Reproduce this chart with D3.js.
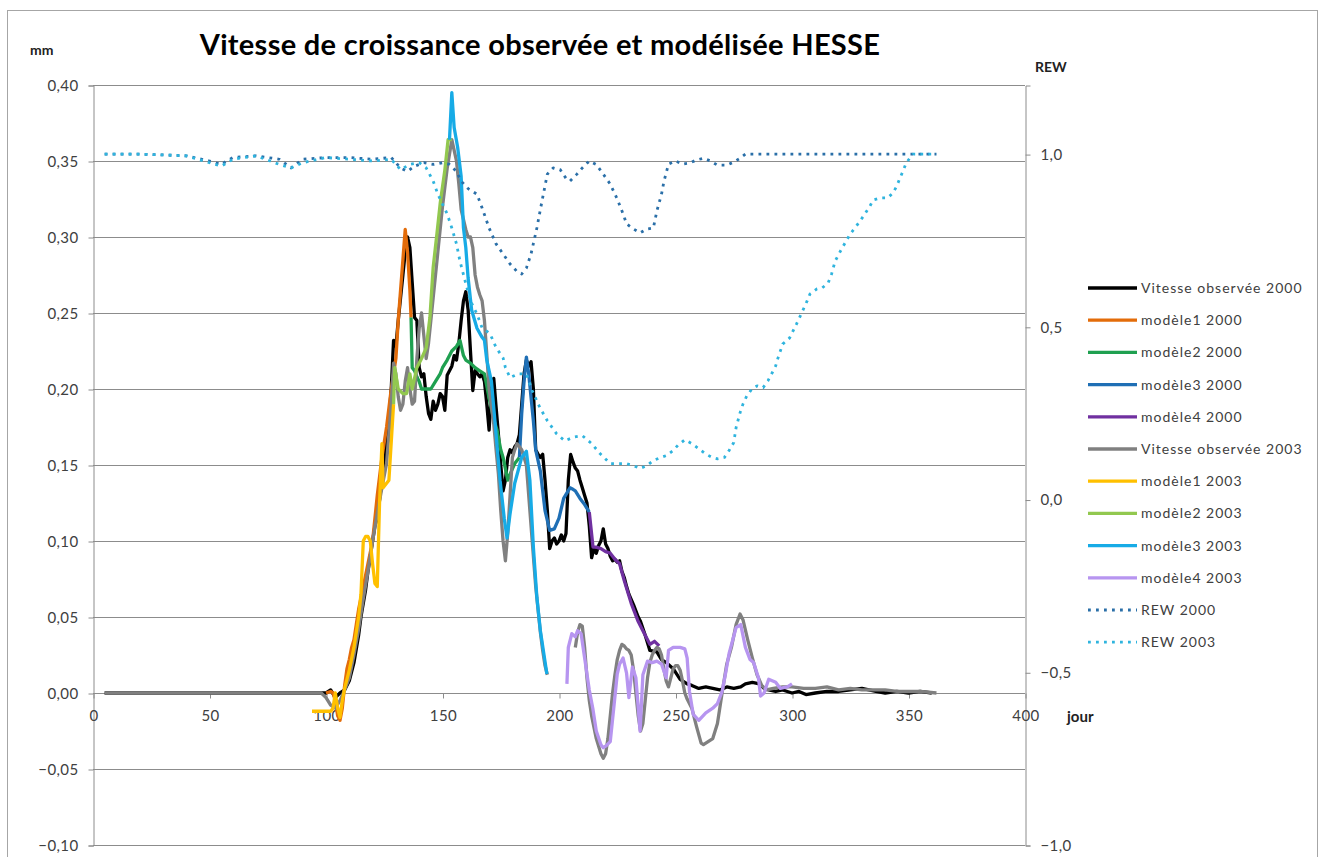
<!DOCTYPE html>
<html>
<head>
<meta charset="utf-8">
<script src="https://cdn.jsdelivr.net/npm/d3@7"></script>
<style>
  body { margin: 0; background: #fff; }
  text { font-family: Lato, "Open Sans", sans-serif; }
</style>
</head>
<body>
<div id="chart"></div>
<script>
// day, mm
var obs2000 = [[5,0],[100,0],[102,0.002],[104,-0.003],[106,0],[108,0.002],[110,0.008],[112,0.02],[114,0.038],[115,0.05],[117,0.068],[118,0.08],[120,0.1],[121,0.11],[122,0.115],[124,0.14],[126,0.165],[127,0.18],[128,0.2],[129,0.232],[130,0.228],[131,0.245],[132,0.26],[133,0.275],[134,0.29],[135,0.3],[136,0.293],[137,0.27],[138,0.247],[139,0.245],[140,0.214],[141,0.208],[142,0.21],[143,0.195],[144,0.184],[145,0.18],[146,0.192],[147,0.186],[148,0.19],[149,0.197],[150,0.195],[151,0.186],[152,0.209],[153,0.212],[154,0.215],[155,0.222],[156,0.219],[157,0.23],[158,0.245],[159,0.258],[160,0.264],[161,0.252],[162,0.225],[163,0.199],[164,0.212],[165,0.21],[166,0.208],[167,0.21],[168,0.205],[169,0.19],[170,0.173],[171,0.2],[172,0.207],[173,0.188],[174,0.17],[175,0.15],[176,0.133],[177,0.14],[178,0.155],[179,0.16],[180,0.158],[181,0.162],[182,0.164],[183,0.17],[184,0.19],[185,0.21],[186,0.219],[187,0.215],[188,0.218],[189,0.2],[190,0.16],[191,0.157],[192,0.155],[193,0.157],[194,0.14],[195,0.12],[196,0.095],[197,0.1],[198,0.102],[199,0.098],[200,0.1],[201,0.104],[202,0.1],[203,0.105],[204,0.14],[205,0.157],[206,0.152],[207,0.148],[208,0.146],[209,0.14],[210,0.135],[211,0.13],[212,0.125],[213,0.11],[214,0.089],[215,0.095],[216,0.092],[217,0.097],[218,0.1],[219,0.108],[220,0.098],[221,0.095],[222,0.09],[223,0.087],[224,0.088],[225,0.086],[226,0.087],[227,0.08],[228,0.076],[229,0.07],[230,0.065],[232,0.058],[234,0.05],[235,0.047],[237,0.038],[239,0.028],[242,0.027],[244,0.022],[246,0.02],[249,0.016],[252,0.009],[255,0.006],[257,0.005],[260,0.003],[263,0.004],[266,0.003],[269,0.002],[272,0.004],[275,0.003],[278,0.004],[280,0.006],[283,0.007],[286,0.006],[288,0.003],[290,0.002],[293,0.001],[296,0.002],[300,0],[303,0.001],[306,-0.001],[310,0],[315,0.001],[320,0.001],[325,0.002],[330,0.003],[333,0.002],[336,0.001],[340,0],[345,0.001],[350,0],[355,0.001],[360,0]];
var mod1_2000 = [[100,0],[102,0.001],[103,0],[104,-0.005],[105,-0.015],[106,-0.018],[107,-0.01],[108,0.005],[109,0.016],[110,0.022],[111,0.03],[112,0.035],[113,0.045],[114,0.055],[116,0.07],[118,0.085],[120,0.1],[122,0.13],[124,0.155],[126,0.175],[128,0.2],[130,0.22],[131,0.245],[132,0.265],[133,0.285],[134,0.305],[135,0.29],[136,0.265],[136.5,0.247]];
var mod2_2000 = [[136.5,0.247],[137,0.214],[138,0.212],[139,0.208],[140,0.205],[141,0.2],[143,0.2],[145,0.2],[147,0.205],[149,0.21],[150,0.214],[152,0.219],[154,0.225],[156,0.228],[157.5,0.232],[159,0.222],[160,0.219],[162,0.217],[164,0.214],[166,0.212],[168,0.21],[170,0.194],[172,0.18],[173.4,0.173],[175,0.16],[176,0.155],[178,0.14],[179,0.144],[181,0.151],[183,0.155]];
var mod3_2000 = [[183,0.155],[184,0.184],[185,0.205],[186,0.221],[187,0.21],[189,0.179],[190,0.16],[192,0.146],[194,0.12],[196,0.107],[198,0.108],[200,0.115],[202,0.128],[204.7,0.135],[206,0.134],[207,0.133],[209,0.128],[211,0.124],[213,0.119]];
var mod4_2000 = [[213,0.119],[214.6,0.096],[216,0.096],[218,0.095],[220,0.093],[222,0.092],[224,0.088],[226,0.085],[228,0.074],[231,0.059],[234,0.047],[236,0.041],[239,0.032],[241,0.034],[243,0.031]];
var obs2003 = [[5,0],[98,0],[100,-0.003],[102,-0.008],[104,-0.01],[106,-0.005],[108,0.002],[110,0.01],[112,0.025],[114,0.042],[116,0.062],[118,0.08],[120,0.1],[122,0.118],[124,0.135],[126,0.151],[128,0.19],[129,0.217],[130,0.21],[131,0.195],[132,0.186],[133,0.19],[134,0.205],[135,0.214],[136,0.2],[137,0.19],[138,0.192],[139,0.22],[140,0.24],[141,0.25],[142,0.235],[143,0.22],[144,0.23],[146,0.26],[148,0.29],[150,0.32],[152,0.345],[154,0.364],[155,0.357],[156,0.35],[157,0.335],[158,0.318],[160,0.305],[161,0.3],[162,0.3],[163,0.293],[164,0.275],[165,0.267],[166,0.262],[167,0.258],[168,0.245],[169,0.223],[170,0.2],[172,0.177],[173,0.16],[174,0.144],[175,0.12],[176,0.1],[177,0.087],[178,0.105],[179,0.13],[180,0.155],[181,0.16],[182,0.164],[183,0.162],[184,0.16],[185,0.155],[186,0.15],[187,0.13],[188,0.11],[189,0.09],[190,0.07],[191,0.055],[192,0.04],[193,0.028],[194,0.018],[195,0.012],[196,null],[207,0.03],[208,0.04],[209,0.045],[210,0.044],[211,0.03],[212,0.01],[213,-0.005],[214,-0.015],[216,-0.03],[218,-0.04],[219,-0.043],[220,-0.04],[221,-0.03],[222,-0.015],[223,0],[224,0.012],[225,0.022],[226,0.028],[227,0.032],[228,0.031],[229,0.029],[230,0.028],[231,0.025],[232,0.015],[233,0],[234,-0.015],[235,-0.025],[236,-0.02],[237,-0.005],[238,0.01],[239,0.02],[240,0.025],[241,0.028],[242,0.03],[243,0.029],[244,0.025],[245,0.016],[246,0.008],[247,0.004],[248,0.01],[249,0.016],[250,0.018],[251,0.018],[252,0.015],[253,0.008],[254,0],[255,-0.004],[257,-0.01],[259,-0.022],[261,-0.033],[262,-0.034],[264,-0.032],[266,-0.03],[268,-0.02],[270,0],[272,0.019],[274,0.03],[276,0.045],[277.7,0.052],[279,0.048],[281,0.035],[283,0.023],[285,0.012],[287,0.005],[289,0.002],[292,0.003],[296,0.004],[300,0.004],[305,0.003],[310,0.003],[315,0.004],[320,0.002],[325,0.003],[330,0.002],[335,0.002],[340,0.002],[345,0.001],[350,0.001],[355,0.001],[362,0]];
var mod1_2003 = [[94,-0.012],[100,-0.012],[102,-0.012],[103,-0.01],[104,0],[105,-0.01],[106,-0.016],[107,-0.005],[108,0.003],[110,0.015],[112,0.03],[114,0.05],[115,0.065],[116,0.1],[117,0.103],[118,0.103],[119,0.1],[120,0.085],[121,0.072],[122,0.07],[123,0.126],[124,0.164],[124.5,0.135],[126,0.138],[127,0.14],[128,0.165],[129,0.19]];
var mod2_2003 = [[129,0.19],[129.5,0.214],[131,0.2],[133,0.197],[134.6,0.197],[136,0.21],[137,0.2],[139,0.214],[141,0.22],[143,0.227],[144.6,0.247],[146,0.28],[147.6,0.302],[149,0.322],[151,0.344],[152.4,0.364],[154,0.364]];
var mod3_2003 = [[153,0.364],[154,0.395],[155,0.372],[156.5,0.359],[158,0.34],[159,0.306],[160,0.293],[161,0.273],[162.5,0.252],[164.8,0.24],[167,0.234],[168,0.232],[169,0.219],[171,0.205],[172.5,0.179],[174.7,0.14],[176.5,0.115],[177.7,0.102],[179,0.118],[181,0.138],[184,0.155],[186,0.159],[187.5,0.14],[189,0.096],[190.5,0.063],[192,0.041],[194.8,0.0125]];
var mod4_2003 = [[203.4,0.006],[204,0.03],[205.5,0.039],[207,0.037],[208,0.041],[209.5,0.039],[211,0.023],[213,0.002],[214.5,-0.01],[216,-0.025],[218,-0.034],[219,-0.036],[220,-0.035],[222,-0.032],[223.5,-0.01],[225,0.0125],[226,0.019],[227.5,0.023],[229,0.013],[230,-0.003],[231.5,0.017],[233,0.01],[234.8,-0.025],[236,0.012],[238,0.021],[240,0.02],[242,0.021],[244,0.019],[246,0.01],[247,0.028],[249,0.03],[252,0.03],[254,0.029],[255,0.023],[256,0.001],[257.6,-0.014],[260,-0.018],[263,-0.013],[266,-0.01],[268,-0.007],[270,0.001],[271.5,0.013],[273,0.026],[276,0.043],[278,0.045],[280,0.03],[282,0.022],[283.5,0.02],[285.6,0.01],[286.5,-0.002],[288,0],[290,0.009],[293,0.007],[295,0.003],[298,0.004],[300,0.006]];
// day, REW (right axis)
var rew2000 = [[5,1.0],[20,1.0],[40,0.995],[50,0.98],[55,0.97],[60,0.99],[70,0.995],[80,0.985],[85,0.96],[90,0.985],[100,0.99],[110,0.99],[120,0.985],[128,0.99],[132,0.96],[135,0.95],[138,0.965],[142,0.975],[146,0.97],[150,0.975],[153,0.97],[156,0.95],[158,0.922],[161,0.9],[164.8,0.884],[167,0.844],[168.5,0.815],[170,0.786],[173,0.74],[176,0.711],[179,0.682],[182,0.66],[184,0.653],[186,0.67],[188,0.711],[190.5,0.786],[192.7,0.864],[195,0.942],[197.5,0.96],[200.5,0.955],[203,0.93],[204.7,0.922],[207.7,0.942],[210,0.96],[213,0.98],[216,0.97],[219,0.942],[222,0.913],[225,0.87],[227.5,0.827],[229,0.798],[232,0.783],[234.8,0.772],[237.7,0.783],[240.5,0.786],[242,0.835],[244,0.884],[245,0.92],[247,0.971],[250,0.98],[253,0.971],[256,0.974],[259,0.983],[262,0.988],[265,0.98],[268,0.968],[272,0.968],[275,0.977],[277.7,0.988],[280,1.0],[362,1.0]];
var rew2003 = [[5,1.0],[20,1.0],[40,0.995],[50,0.975],[55,0.965],[60,0.985],[70,0.995],[80,0.97],[85,0.96],[90,0.975],[100,0.99],[110,0.985],[120,0.98],[128,0.985],[132,0.955],[136,0.97],[140,0.975],[143,0.96],[146,0.922],[148,0.884],[150,0.855],[152,0.827],[154,0.786],[156,0.74],[157.5,0.69],[159.7,0.633],[162,0.575],[164.8,0.537],[167,0.497],[170.4,0.48],[173,0.44],[176,0.41],[177,0.382],[179,0.353],[182.5,0.364],[186,0.364],[188.5,0.315],[191.8,0.266],[195,0.228],[199,0.19],[202.5,0.17],[206,0.18],[210,0.185],[214,0.162],[217.6,0.133],[222,0.104],[226,0.104],[229,0.104],[232,0.098],[234.8,0.09],[237.7,0.098],[240.5,0.113],[243,0.12],[246,0.127],[249,0.142],[251,0.157],[254,0.173],[257,0.162],[260,0.147],[262.7,0.133],[265.7,0.122],[268,0.118],[271,0.122],[273,0.142],[275,0.165],[276,0.208],[277.7,0.251],[279,0.277],[280.6,0.3],[282.8,0.32],[285,0.329],[287.6,0.324],[289.7,0.344],[291.5,0.367],[293,0.387],[294,0.41],[296,0.45],[299,0.468],[302,0.509],[304,0.538],[306.5,0.575],[307.7,0.595],[310.7,0.61],[313,0.613],[315.5,0.627],[317,0.653],[318.5,0.69],[321.5,0.728],[322.8,0.743],[325,0.769],[327,0.786],[329.2,0.806],[331.3,0.827],[333.5,0.85],[334.8,0.867],[337.8,0.873],[341,0.873],[343.3,0.887],[345,0.908],[346.3,0.93],[347.6,0.95],[349,0.974],[350.5,0.988],[352,1.0],[362,1.0]];

var seriesNames = ["Vitesse observée 2000", "modèle1 2000", "modèle2 2000", "modèle3 2000", "modèle4 2000",
  "Vitesse observée 2003", "modèle1 2003", "modèle2 2003", "modèle3 2003", "modèle4 2003", "REW 2000", "REW 2003"];
var seriesData = [obs2000, mod1_2000, mod2_2000, mod3_2000, mod4_2000, obs2003, mod1_2003, mod2_2003, mod3_2003, mod4_2003, rew2000, rew2003];
var seriesColors = ["#000000", "#E36C0A", "#1FA050", "#1F6FB5", "#7030A0", "#808080", "#FFC000", "#92C84F", "#17ABE6", "#B795F0", "#2A6FA8", "#2FB4DE"];
var onRight = [false, false, false, false, false, false, false, false, false, false, true, true];

var xTicks = [0, 50, 100, 150, 200, 250, 300, 350, 400];
var yTicks = [-0.10, -0.05, 0, 0.05, 0.10, 0.15, 0.20, 0.25, 0.30, 0.35, 0.40];
var y2Ticks = [-1.0, -0.5, 0, 0.5, 1.0];

var width = 1322, height = 857;

var svg = d3.select("#chart").append("svg")
  .attr("width", width)
  .attr("height", height);

svg.append("rect")
  .attr("x", 7.5).attr("y", 10.5)
  .attr("width", 1310).attr("height", 860)
  .attr("fill", "#fff").attr("stroke", "#a6a6a6");

var x = d3.scaleLinear().domain([0, 400]).range([93, 1025]);
var y = d3.scaleLinear().domain([-0.1, 0.4]).range([845, 85]);
var y2 = d3.scaleLinear().domain([-1.0, 1.2]).range([845, 85]);

var comma = function (f) { return function (d) { return f(d).replace(".", ",") } };

// gridlines
svg.append("g")
  .selectAll("line")
  .data(yTicks)
  .enter()
  .append("line")
  .attr("x1", x(0)).attr("x2", x(400))
  .attr("y1", function (d) { return Math.round(y(d)) + 0.5 })
  .attr("y2", function (d) { return Math.round(y(d)) + 0.5 })
  .attr("stroke", "#8c8c8c");

// left axis
var yAxis = d3.axisLeft(y).tickValues(yTicks).tickSize(5).tickFormat(comma(d3.format(".2f")));
var gy = svg.append("g").attr("transform", "translate(93.5,0.5)").call(yAxis);
gy.select(".domain").attr("stroke", "#8c8c8c");
gy.selectAll(".tick line").attr("stroke", "#8c8c8c");
gy.selectAll("text").attr("font-size", 15).attr("letter-spacing", 0.4).attr("fill", "#404040").attr("x", -15);

// right axis
var y2Axis = d3.axisRight(y2).tickValues(y2Ticks).tickSize(5).tickFormat(comma(d3.format(".1f")));
var gy2 = svg.append("g").attr("transform", "translate(1025.5,0.5)").call(y2Axis);
gy2.select(".domain").attr("stroke", "#8c8c8c");
gy2.selectAll(".tick line").attr("stroke", "#8c8c8c");
gy2.selectAll("text").attr("font-size", 15).attr("letter-spacing", 0.4).attr("fill", "#404040").attr("x", 15);

// x axis on the zero line
var xAxis = d3.axisBottom(x).tickValues(xTicks).tickSize(5).tickFormat(d3.format("d"));
var gx = svg.append("g").attr("transform", "translate(0.5," + (Math.round(y(0)) + 0.5) + ")").call(xAxis);
gx.select(".domain").remove();
gx.selectAll(".tick line").attr("stroke", "#8c8c8c");
gx.selectAll("text").attr("font-size", 15).attr("letter-spacing", 0.4).attr("fill", "#404040").attr("y", 17);

// series
var lineLeft = d3.line()
  .defined(function (d) { return d[1] !== null })
  .x(function (d) { return x(d[0]) })
  .y(function (d) { return y(d[1]) });
var lineRight = d3.line()
  .x(function (d) { return x(d[0]) })
  .y(function (d) { return y2(d[1]) });

seriesData.forEach(function (data, i) {
  var path = svg.append("path")
    .datum(data)
    .attr("fill", "none")
    .attr("stroke", seriesColors[i])
    .attr("stroke-linejoin", "round");
  if (onRight[i]) {
    path.attr("d", lineRight)
      .attr("stroke-width", 2.8)
      .attr("stroke-dasharray", "2.8,5.2");
  } else {
    path.attr("d", lineLeft)
      .attr("stroke-width", 3.3);
  }
});

// titles
svg.append("text")
  .attr("x", 540).attr("y", 55)
  .attr("text-anchor", "middle")
  .attr("font-size", 29).attr("font-weight", "bold")
  .attr("letter-spacing", 0.3)
  .attr("fill", "#000")
  .text("Vitesse de croissance observée et modélisée HESSE");

svg.append("text").attr("x", 30).attr("y", 55)
  .attr("font-size", 14).attr("font-weight", "bold").attr("fill", "#222").text("mm");
svg.append("text").attr("x", 1035).attr("y", 72)
  .attr("font-size", 14).attr("font-weight", "bold").attr("fill", "#222").text("REW");
svg.append("text").attr("x", 1067).attr("y", 722)
  .attr("font-size", 15).attr("font-weight", "bold").attr("fill", "#222").text("jour");

// legend
var legend = svg.append("g")
  .selectAll("g")
  .data(seriesNames)
  .enter()
  .append("g")
  .attr("transform", function (d, i) { return "translate(1088," + (288 + i * 32.2) + ")" });

legend.append("line")
  .attr("x1", 0).attr("x2", 49)
  .attr("stroke", function (d, i) { return seriesColors[i] })
  .attr("stroke-width", function (d, i) { return onRight[i] ? 2.8 : 3.3 })
  .attr("stroke-dasharray", function (d, i) { return onRight[i] ? "2.8,5.2" : null });

legend.append("text")
  .attr("x", 53).attr("y", 5)
  .attr("font-size", 14)
  .attr("letter-spacing", 1)
  .attr("fill", "#404040")
  .text(function (d) { return d });
</script>
</body>
</html>
